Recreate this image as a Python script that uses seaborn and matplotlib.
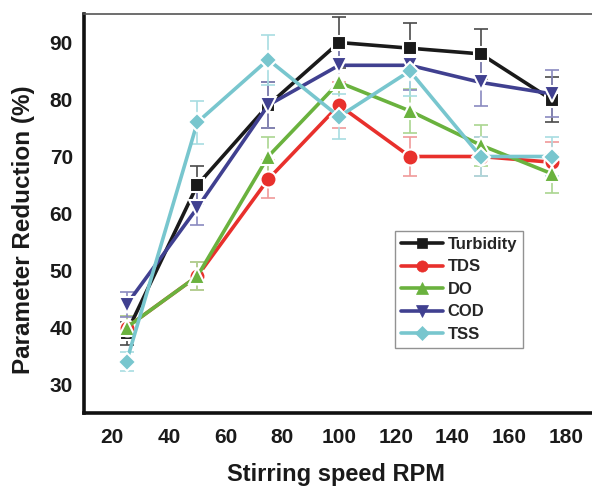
import matplotlib
matplotlib.use("Agg")
import matplotlib.pyplot as plt
from matplotlib.ticker import MultipleLocator
import seaborn as sns
import pandas as pd

# Stirring speed (RPM)
speed = [25, 50, 75, 100, 125, 150, 175]

# Parameter reduction (%) per measured parameter
turbidity = [39, 65, 79, 90, 89, 88, 80]
tds = [40, 49, 66, 79, 70, 70, 69]
do = [40, 49, 70, 83, 78, 72, 67]
cod = [44, 61, 79, 86, 86, 83, 81]
tss = [34, 76, 87, 77, 85, 70, 70]

# Error bar half-widths (%)
turbidity_err = [2.0, 3.3, 4.0, 4.5, 4.5, 4.4, 4.0]
tds_err = [2.0, 2.5, 3.3, 4.0, 3.5, 3.5, 3.5]
do_err = [2.0, 2.5, 3.5, 4.2, 3.9, 3.6, 3.4]
cod_err = [2.2, 3.0, 4.0, 4.3, 4.3, 4.2, 4.1]
tss_err = [1.7, 3.8, 4.4, 3.9, 4.3, 3.5, 3.5]

names = ["Turbidity", "TDS", "DO", "COD", "TSS"]
values = [turbidity, tds, do, cod, tss]
errors = [turbidity_err, tds_err, do_err, cod_err, tss_err]
colors = ["#1a1a1a", "#e8302c", "#6ab23e", "#404090", "#78c6ce"]
err_colors = ["#4a4a4a", "#f09a9a", "#aad690", "#8a8ac0", "#a8dde2"]
markers = ["s", "o", "^", "v", "D"]
msizes = [10, 11.5, 12, 12, 9.5]

sns.set_theme(style="white")
plt.rcParams["font.family"] = ["Liberation Sans", "DejaVu Sans"]
plt.rcParams["font.weight"] = "bold"

fig = plt.figure(figsize=(5.92, 4.87), dpi=100)
ax = fig.add_axes([84 / 592, 1 - 413 / 487, (594 - 84) / 592, (413 - 14) / 487])

df = pd.DataFrame({"speed": speed})
for name, vals, errs, c, ec, m, ms in zip(names, values, errors, colors,
                                         err_colors, markers, msizes):
    ax.errorbar(speed, vals, yerr=errs, fmt="none", ecolor=ec, elinewidth=1.2,
                capsize=5, capthick=1.2, zorder=2)
    df[name] = vals
    sns.lineplot(data=df, x="speed", y=name, ax=ax, color=c, marker=m,
                 markersize=ms, markeredgecolor="white", markeredgewidth=1.5,
                 linewidth=2.6, label=name, zorder=3)

ax.set_xlim(10, 190)
ax.set_ylim(25, 95)
ax.xaxis.set_major_locator(MultipleLocator(20))
ax.xaxis.set_minor_locator(MultipleLocator(10))
ax.yaxis.set_minor_locator(MultipleLocator(5))
ax.set_yticks(range(30, 91, 10))
ax.tick_params(axis="both", which="both", direction="in", color="#111111",
               labelsize=15)
ax.tick_params(axis="x", which="major", length=10, width=2, pad=11)
ax.tick_params(axis="x", which="minor", length=5, width=2)
ax.tick_params(axis="y", which="both", length=8, width=2, pad=8)
for lab in ax.get_xticklabels() + ax.get_yticklabels():
    lab.set_fontweight("bold")
    lab.set_color("#1a1a1a")

for side in ["left", "bottom"]:
    ax.spines[side].set_linewidth(2.6)
    ax.spines[side].set_color("#111111")
ax.spines["top"].set_linewidth(1.2)
ax.spines["top"].set_color("#555555")
ax.spines["right"].set_visible(False)

ax.set_xlabel("Stirring speed RPM", fontsize=17, fontweight="bold",
              color="#1a1a1a")
ax.xaxis.label.set_va("baseline")
ax.xaxis.set_label_coords((336 - 84) / 510, (413 - 481) / 399)
ax.set_ylabel("Parameter Reduction (%)", fontsize=17.5, fontweight="bold",
              color="#1a1a1a")
ax.yaxis.set_label_coords((35 - 84) / 510, (413 - 230) / 399)

leg = ax.legend(loc="upper left",
                bbox_to_anchor=((395 - 84) / 510, 1 - (231 - 14) / 399),
                borderaxespad=0, frameon=True, fancybox=False,
                handlelength=2.5, handletextpad=0.3, borderpad=0.35,
                labelspacing=0.45, markerscale=0.7,
                prop={"weight": "bold", "size": 12})
leg.get_frame().set_edgecolor("#777777")
leg.get_frame().set_linewidth(1.0)
for line in leg.get_lines():
    line.set_markeredgecolor(line.get_color())
    line.set_markeredgewidth(0.5)

fig.savefig("out.png", dpi=100)
